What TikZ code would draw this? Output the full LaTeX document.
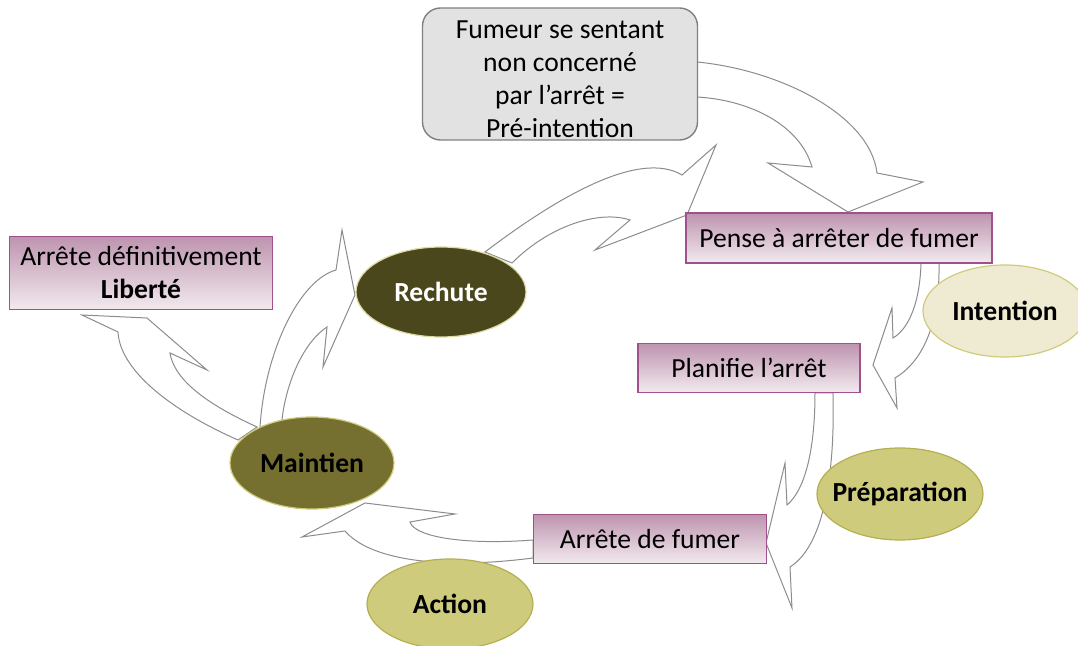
\documentclass[tikz,border=0pt]{standalone}
\usepackage{fontspec}
\setmainfont{Carlito}
\usetikzlibrary{shapes.geometric}
\definecolor{mauvetop}{RGB}{190,148,175}
\definecolor{mauvebot}{RGB}{242,234,239}
\definecolor{mauveline}{RGB}{160,80,140}
\definecolor{olivedark}{RGB}{75,71,29}
\definecolor{olivemid}{RGB}{117,112,48}
\definecolor{olivelight}{RGB}{207,203,124}
\definecolor{olivepale}{RGB}{239,235,211}
\definecolor{oliveline}{RGB}{181,175,80}
\definecolor{greybox}{RGB}{226,226,226}
\def\labelfont{\fontsize{13.8}{16.5}\selectfont}
\def\phasetext#1{\makebox[0pt]{#1}}

\begin{document}
\begin{tikzpicture}[x=0.5pt, y=-0.5pt,
		bigarrow/.style={draw=black!45, fill=white, line width=0.5pt},
		stagebox/.style={draw=mauveline, line width=0.7pt, top color=mauvetop, bottom color=mauvebot, font=\labelfont, align=center, inner sep=0pt},
		phase/.style={ellipse, draw=oliveline, line width=0.6pt, font=\labelfont\bfseries, inner sep=0pt}]
			%%%%% START %%%%%
			
			\useasboundingbox (0, 0) rectangle (1078, 646);
			
			% pre-intention -> pense
			\draw[bigarrow] (697, 62) .. controls (780, 70) and (870, 115) .. (877, 173) -- (923, 182) -- (848, 212) -- (768, 163) -- (812, 167) .. controls (800, 125) and (750, 100) .. (697, 97) -- cycle;
			% pense -> planifie
			\draw[bigarrow] (921, 263) .. controls (920, 300) and (910, 328) .. (893, 338) -- (892, 308) -- (873, 365) -- (897, 408) -- (895, 378) .. controls (925, 360) and (940, 320) .. (939, 263) -- cycle;
			% planifie -> arrete
			\draw[bigarrow] (815, 393) .. controls (815, 450) and (805, 490) .. (787, 505) -- (785, 463) -- (766, 543) -- (792, 608) -- (790, 567) .. controls (825, 545) and (835, 470) .. (833, 393) -- cycle;
			% arrete -> maintien
			\draw[bigarrow] (533, 540) .. controls (470, 545) and (415, 538) .. (410, 522) -- (455, 514) -- (365, 503) -- (302, 537) -- (345, 531) .. controls (370, 560) and (440, 570) .. (533, 558) -- cycle;
			% maintien -> liberte
			\draw[bigarrow] (238, 440) .. controls (170, 410) and (120, 370) .. (118, 332) -- (82, 315) -- (147, 318) -- (207, 370) -- (170, 353) .. controls (175, 385) and (220, 410) .. (257, 427) -- cycle;
			% maintien -> rechute
			\draw[bigarrow] (260, 427) .. controls (265, 350) and (300, 280) .. (336, 270) -- (342, 230) -- (355, 295) -- (323, 367) -- (327, 327) .. controls (300, 345) and (285, 390) .. (282, 420) -- cycle;
			% rechute -> pense
			\draw[bigarrow] (485, 252) .. controls (560, 195) and (640, 150) .. (682, 175) -- (716, 145) -- (687, 215) -- (595, 250) -- (630, 220) .. controls (600, 210) and (550, 225) .. (512, 263) -- cycle;
			
			% stages
			\node[draw=black!50, line width=0.7pt, fill=greybox, rounded corners=9pt, minimum width=137.5pt, minimum height=66pt, font=\labelfont, align=center, inner sep=0pt] (pre) at (560, 74) {\rule{0pt}{14pt}Fumeur se sentant\\non concerné\\par l’arrêt =\\Pré-intention};
			\node[stagebox, minimum width=153pt, minimum height=25pt] (pense) at (839, 238) {Pense à arrêter de fumer};
			\node[stagebox, minimum width=111pt, minimum height=24.5pt] (planifie) at (749, 368) {Planifie l’arrêt};
			\node[stagebox, minimum width=116.5pt, minimum height=24.5pt] (arrete) at (650, 539) {Arrête de fumer};
			\node[stagebox, minimum width=131.5pt, minimum height=36.5pt] (liberte) at (141, 273) {Arrête définitivement\\\textbf{Liberté}};
			
			% phases
			\node[phase, fill=olivepale, draw=olivelight, minimum width=82pt, minimum height=46pt] (intention) at (1005, 311) {\phasetext{Intention}};
			\node[phase, fill=olivelight, minimum width=83pt, minimum height=46pt] (preparation) at (900, 494) {\phasetext{Préparation}};
			\node[phase, fill=olivelight, minimum width=83pt, minimum height=45pt] (action) at (450, 604) {\phasetext{Action}};
			\node[phase, fill=olivemid, draw=olivelight, minimum width=82pt, minimum height=46pt] (maintien) at (312, 463) {\phasetext{Maintien}};
			\node[phase, fill=olivedark, draw=olivelight!70, text=white, minimum width=85pt, minimum height=45pt] (rechute) at (441, 292) {\phasetext{Rechute}};
			
			%%%%% END %%%%%
\end{tikzpicture}
\end{document}
